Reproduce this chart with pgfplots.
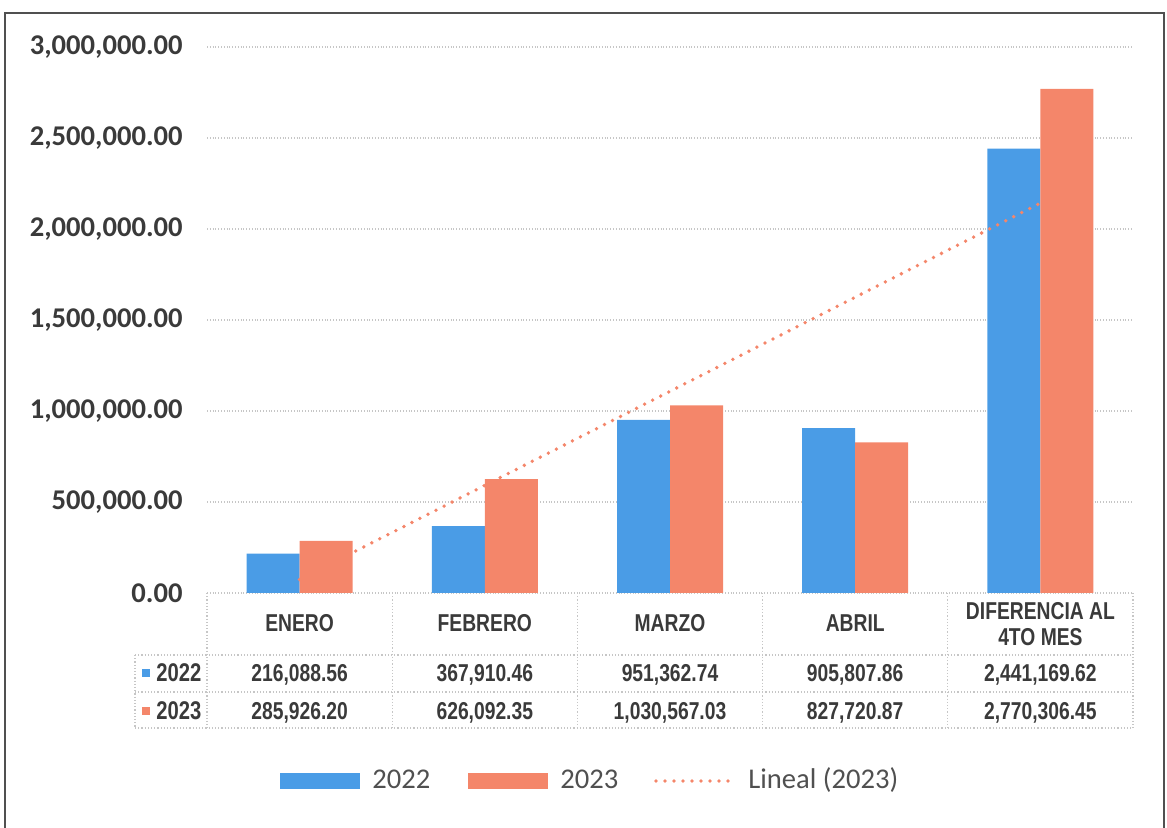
\documentclass[border=0pt]{standalone}
\usepackage{fontspec}
\setmainfont{Carlito}
\newfontfamily\narrow[FakeStretch=0.79]{Liberation Sans}
\usepackage{pgfplots}
\pgfplotsset{compat=1.18}
\definecolor{c22}{HTML}{4A9CE6}
\definecolor{c23}{HTML}{F4866A}
\definecolor{txt}{HTML}{3A3A3A}
\definecolor{legtxt}{HTML}{505050}
\definecolor{frame}{HTML}{505050}

\begin{document}
\begin{tikzpicture}
\useasboundingbox (0,0) rectangle (583.5pt,414pt);
\begin{axis}[
    at={(103.5pt,117.5pt)}, anchor=south west,
    scale only axis, width=463pt, height=273pt,
    xmin=-0.5, xmax=4.5, ymin=0, ymax=3000000,
    xtick=\empty,
    ytick={0,500000,1000000,1500000,2000000,2500000,3000000},
    scaled y ticks=false,
    /pgf/number format/fixed,
    /pgf/number format/fixed zerofill,
    /pgf/number format/precision=2,
    /pgf/number format/1000 sep={,},
    /pgf/number format/assume math mode=true,
    yticklabel style={font=\bfseries\fontsize{14.3}{16}\selectfont, text=txt,
      anchor=east, inner sep=0pt, xshift=-12pt},
    ymajorgrids,
    grid style={densely dotted, gray!45, line width=0.6pt},
    axis line style={draw=none},
    major tick length=0pt,
    clip=false
  ]
  % 2022
  \addplot[ybar, bar width=26.5pt, bar shift=-13.25pt, fill=c22, draw=none] coordinates {
    (0,216088.56) (1,367910.46) (2,951362.74) (3,905807.86) (4,2441169.62)};
  % 2023
  \addplot[ybar, bar width=26.5pt, bar shift=13.25pt, fill=c23, draw=none] coordinates {
    (0,285926.20) (1,626092.35) (2,1030567.03) (3,827720.87) (4,2770306.45)};
  % Lineal (2023), least squares over the five 2023 values
  \addplot[c23, line width=1.9pt, line cap=round, dash pattern=on 0pt off 4.5pt] coordinates {
    (0,74044.98) (4,2142200.18)};
\end{axis}

\begin{scope}[x=0.5pt, y=-0.5pt, shift={(0pt,414pt)}]
  % frame
  \draw[frame, line width=1.3pt] (5,840) -- (5,13) -- (1164,13) -- (1164,840);

  % data table lines
  \begin{scope}[densely dotted, gray!45, line width=0.6pt]
    \foreach \yy in {655,692,728} \draw (135,\yy) -- (1133,\yy);
    \draw (135,655) -- (135,728);
    \foreach \xx in {207,392.2,577.4,762.6,947.8,1133} \draw (\xx,593) -- (\xx,728);
  \end{scope}

  % header row
  \begin{scope}[every node/.style={inner sep=0pt, anchor=base, text=txt,
      font=\narrow\bfseries\fontsize{12.2}{14}\selectfont}]
    \node at (299.6,631.5) {ENERO};
    \node at (484.8,631.5) {FEBRERO};
    \node at (670,631.5) {MARZO};
    \node at (855.2,631.5) {ABRIL};
    \node at (1040.4,619.5) {DIFERENCIA AL};
    \node at (1040.4,645.5) {4TO MES};
    % 2022 row
    \node at (299.6,682) {216,088.56};
    \node at (484.8,682) {367,910.46};
    \node at (670,682) {951,362.74};
    \node at (855.2,682) {905,807.86};
    \node at (1040.4,682) {2,441,169.62};
    % 2023 row
    \node at (299.6,720) {285,926.20};
    \node at (484.8,720) {626,092.35};
    \node at (670,720) {1,030,567.03};
    \node at (855.2,720) {827,720.87};
    \node at (1040.4,720) {2,770,306.45};
    \node[anchor=base west, font=\narrow\bfseries\fontsize{12.8}{14}\selectfont] at (156,682) {2022};
    \node[anchor=base west, font=\narrow\bfseries\fontsize{12.8}{14}\selectfont] at (156,720) {2023};
  \end{scope}
  \fill[c22] (142,669) rectangle (150,677);
  \fill[c23] (142,707) rectangle (150,715);

  % legend
  \fill[c22] (280,773) rectangle (360,789);
  \fill[c23] (468,773) rectangle (548,789);
  \draw[c23, line width=1.9pt, line cap=round, dash pattern=on 0pt off 4.5pt] (656,781) -- (734,781);
  \begin{scope}[every node/.style={inner sep=0pt, anchor=base west, text=legtxt,
      font=\fontsize{14.3}{16}\selectfont}]
    \node at (372,789) {2022};
    \node at (560,789) {2023};
    \node at (748,789) {Lineal (2023)};
  \end{scope}
\end{scope}
\end{tikzpicture}
\end{document}
